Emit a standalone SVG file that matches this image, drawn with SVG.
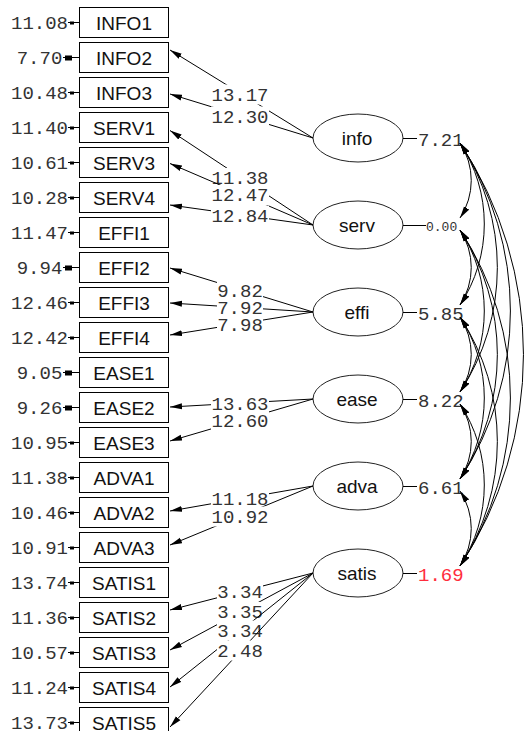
<svg xmlns="http://www.w3.org/2000/svg" width="525" height="731" viewBox="0 0 525 731">
<style>
.box{fill:#fff;stroke:#000;stroke-width:1}
.ell{fill:#fff;stroke:#222;stroke-width:1}
.bt{font-family:"Liberation Sans",Arial,sans-serif;font-size:19px;fill:#111;text-anchor:middle}
.num{font-family:"Liberation Mono","Courier New",monospace;font-size:19px;fill:#333}
.mid{text-anchor:middle}
.err{stroke:#000;stroke-width:1;fill:none}
.blk{fill:#000}
.ln{stroke:#000;stroke-width:1;fill:none;marker-end:url(#ah)}
.cv{stroke:#000;stroke-width:1;fill:none;marker-start:url(#ah);marker-end:url(#ah)}
.bg{fill:#fff}
.red{fill:#ff2d3d}
</style>
<defs>
<marker id="ah" viewBox="0 0 12 7" refX="12" refY="3.5" markerWidth="12" markerHeight="7" markerUnits="userSpaceOnUse" orient="auto-start-reverse"><path d="M0,0.5 L12,3.5 L0,6.5 z" fill="#000"/></marker>
</defs>
<rect width="525" height="731" fill="#fff"/>

<!-- observed variables -->
<g id="INFO1"><rect class="box" x="79.5" y="7.5" width="89" height="30"/><text class="bt" x="124" y="30">INFO1</text><text class="num mid" x="39.5" y="29">11.08</text><path class="err" d="M68 22.5H79"/><rect class="blk" x="70" y="21.5" width="4" height="3"/></g>
<g id="INFO2"><rect class="box" x="79.5" y="42.5" width="89" height="30"/><text class="bt" x="124" y="65">INFO2</text><text class="num mid" x="39.5" y="64">7.70</text><path class="err" d="M63 57.5H79"/><rect class="blk" x="65" y="55.5" width="7" height="5"/></g>
<g id="INFO3"><rect class="box" x="79.5" y="77.5" width="89" height="30"/><text class="bt" x="124" y="100">INFO3</text><text class="num mid" x="39.5" y="99">10.48</text><path class="err" d="M68 92.5H79"/><rect class="blk" x="70" y="91.5" width="4" height="3"/></g>
<g id="SERV1"><rect class="box" x="79.5" y="112.5" width="89" height="30"/><text class="bt" x="124" y="135">SERV1</text><text class="num mid" x="39.5" y="134">11.40</text><path class="err" d="M68 127.5H79"/><rect class="blk" x="70" y="126.5" width="4" height="3"/></g>
<g id="SERV3"><rect class="box" x="79.5" y="147.5" width="89" height="30"/><text class="bt" x="124" y="170">SERV3</text><text class="num mid" x="39.5" y="169">10.61</text><path class="err" d="M68 162.5H79"/><rect class="blk" x="70" y="161.5" width="4" height="3"/></g>
<g id="SERV4"><rect class="box" x="79.5" y="182.5" width="89" height="30"/><text class="bt" x="124" y="205">SERV4</text><text class="num mid" x="39.5" y="204">10.28</text><path class="err" d="M68 197.5H79"/><rect class="blk" x="70" y="196.5" width="4" height="3"/></g>
<g id="EFFI1"><rect class="box" x="79.5" y="217.5" width="89" height="30"/><text class="bt" x="124" y="240">EFFI1</text><text class="num mid" x="39.5" y="239">11.47</text><path class="err" d="M68 232.5H79"/><rect class="blk" x="70" y="231.5" width="4" height="3"/></g>
<g id="EFFI2"><rect class="box" x="79.5" y="252.5" width="89" height="30"/><text class="bt" x="124" y="275">EFFI2</text><text class="num mid" x="39.5" y="274">9.94</text><path class="err" d="M63 267.5H79"/><rect class="blk" x="65" y="265.5" width="7" height="5"/></g>
<g id="EFFI3"><rect class="box" x="79.5" y="287.5" width="89" height="30"/><text class="bt" x="124" y="310">EFFI3</text><text class="num mid" x="39.5" y="309">12.46</text><path class="err" d="M68 302.5H79"/><rect class="blk" x="70" y="301.5" width="4" height="3"/></g>
<g id="EFFI4"><rect class="box" x="79.5" y="322.5" width="89" height="30"/><text class="bt" x="124" y="345">EFFI4</text><text class="num mid" x="39.5" y="344">12.42</text><path class="err" d="M68 337.5H79"/><rect class="blk" x="70" y="336.5" width="4" height="3"/></g>
<g id="EASE1"><rect class="box" x="79.5" y="357.5" width="89" height="30"/><text class="bt" x="124" y="380">EASE1</text><text class="num mid" x="39.5" y="379">9.05</text><path class="err" d="M63 372.5H79"/><rect class="blk" x="65" y="370.5" width="7" height="5"/></g>
<g id="EASE2"><rect class="box" x="79.5" y="392.5" width="89" height="30"/><text class="bt" x="124" y="415">EASE2</text><text class="num mid" x="39.5" y="414">9.26</text><path class="err" d="M63 407.5H79"/><rect class="blk" x="65" y="405.5" width="7" height="5"/></g>
<g id="EASE3"><rect class="box" x="79.5" y="427.5" width="89" height="30"/><text class="bt" x="124" y="450">EASE3</text><text class="num mid" x="39.5" y="449">10.95</text><path class="err" d="M68 442.5H79"/><rect class="blk" x="70" y="441.5" width="4" height="3"/></g>
<g id="ADVA1"><rect class="box" x="79.5" y="462.5" width="89" height="30"/><text class="bt" x="124" y="485">ADVA1</text><text class="num mid" x="39.5" y="484">11.38</text><path class="err" d="M68 477.5H79"/><rect class="blk" x="70" y="476.5" width="4" height="3"/></g>
<g id="ADVA2"><rect class="box" x="79.5" y="497.5" width="89" height="30"/><text class="bt" x="124" y="520">ADVA2</text><text class="num mid" x="39.5" y="519">10.46</text><path class="err" d="M68 512.5H79"/><rect class="blk" x="70" y="511.5" width="4" height="3"/></g>
<g id="ADVA3"><rect class="box" x="79.5" y="532.5" width="89" height="30"/><text class="bt" x="124" y="555">ADVA3</text><text class="num mid" x="39.5" y="554">10.91</text><path class="err" d="M68 547.5H79"/><rect class="blk" x="70" y="546.5" width="4" height="3"/></g>
<g id="SATIS1"><rect class="box" x="79.5" y="567.5" width="89" height="30"/><text class="bt" x="124" y="590">SATIS1</text><text class="num mid" x="39.5" y="589">13.74</text><path class="err" d="M68 582.5H79"/><rect class="blk" x="70" y="581.5" width="4" height="3"/></g>
<g id="SATIS2"><rect class="box" x="79.5" y="602.5" width="89" height="30"/><text class="bt" x="124" y="625">SATIS2</text><text class="num mid" x="39.5" y="624">11.36</text><path class="err" d="M68 617.5H79"/><rect class="blk" x="70" y="616.5" width="4" height="3"/></g>
<g id="SATIS3"><rect class="box" x="79.5" y="637.5" width="89" height="30"/><text class="bt" x="124" y="660">SATIS3</text><text class="num mid" x="39.5" y="659">10.57</text><path class="err" d="M68 652.5H79"/><rect class="blk" x="70" y="651.5" width="4" height="3"/></g>
<g id="SATIS4"><rect class="box" x="79.5" y="672.5" width="89" height="30"/><text class="bt" x="124" y="695">SATIS4</text><text class="num mid" x="39.5" y="694">11.24</text><path class="err" d="M68 687.5H79"/><rect class="blk" x="70" y="686.5" width="4" height="3"/></g>
<g id="SATIS5"><rect class="box" x="79.5" y="707.5" width="89" height="30"/><text class="bt" x="124" y="730">SATIS5</text><text class="num mid" x="39.5" y="729">13.73</text><path class="err" d="M68 722.5H79"/><rect class="blk" x="70" y="721.5" width="4" height="3"/></g>

<!-- latent variables -->
<g id="info"><ellipse class="ell" cx="358" cy="138" rx="45" ry="24"/><text class="bt" x="357" y="145">info</text><path class="err" d="M403 138.5H417"/><text class="num" x="418" y="145.5">7.21</text></g>
<g id="serv"><ellipse class="ell" cx="358" cy="225" rx="45" ry="24"/><text class="bt" x="357" y="232">serv</text><path class="err" d="M403 225.5H426"/><text class="num" x="426" y="230.5" style="font-size:13px">0.00</text></g>
<g id="effi"><ellipse class="ell" cx="358" cy="312" rx="45" ry="24"/><text class="bt" x="357" y="319">effi</text><path class="err" d="M403 312.5H417"/><text class="num" x="418" y="319.5">5.85</text></g>
<g id="ease"><ellipse class="ell" cx="358" cy="399" rx="45" ry="24"/><text class="bt" x="357" y="406">ease</text><path class="err" d="M403 399.5H417"/><text class="num" x="418" y="406.5">8.22</text></g>
<g id="adva"><ellipse class="ell" cx="358" cy="486" rx="45" ry="24"/><text class="bt" x="357" y="493">adva</text><path class="err" d="M403 486.5H417"/><text class="num" x="418" y="493.5">6.61</text></g>
<g id="satis"><ellipse class="ell" cx="358" cy="573" rx="45" ry="24"/><text class="bt" x="357" y="580">satis</text><path class="err" d="M403 573.5H417"/><text class="num red" x="418" y="580.5">1.69</text></g>

<!-- connectors -->
<g id="connectors">
<g><path class="ln" d="M313 138L170 50"/><rect class="bg" x="211" y="84.5" width="58" height="20"/><text class="num mid" x="240" y="100.5">13.17</text></g>
<g><path class="ln" d="M313 138L170 94"/><rect class="bg" x="211" y="106.5" width="58" height="20"/><text class="num mid" x="240" y="122.5">12.30</text></g>
<g><path class="ln" d="M313 225L170 130.5"/><rect class="bg" x="211" y="168" width="58" height="20"/><text class="num mid" x="240" y="184">11.38</text></g>
<g><path class="ln" d="M313 225L170 163.5"/><rect class="bg" x="211" y="185" width="58" height="20"/><text class="num mid" x="240" y="201">12.47</text></g>
<g><path class="ln" d="M313 225L170 205"/><rect class="bg" x="211" y="205.5" width="58" height="20"/><text class="num mid" x="240" y="221.5">12.84</text></g>
<g><path class="ln" d="M313 312L170 268"/><rect class="bg" x="217" y="280.5" width="46" height="20"/><text class="num mid" x="240" y="296.5">9.82</text></g>
<g><path class="ln" d="M313 312L170 303"/><rect class="bg" x="217" y="298" width="46" height="20"/><text class="num mid" x="240" y="314">7.92</text></g>
<g><path class="ln" d="M313 312L170 335"/><rect class="bg" x="217" y="314.5" width="46" height="20"/><text class="num mid" x="240" y="330.5">7.98</text></g>
<g><path class="ln" d="M313 399L170 407"/><rect class="bg" x="211" y="393.5" width="58" height="20"/><text class="num mid" x="240" y="409.5">13.63</text></g>
<g><path class="ln" d="M313 399L170 441"/><rect class="bg" x="211" y="410.5" width="58" height="20"/><text class="num mid" x="240" y="426.5">12.60</text></g>
<g><path class="ln" d="M313 486L170 511"/><rect class="bg" x="211" y="489" width="58" height="20"/><text class="num mid" x="240" y="505">11.18</text></g>
<g><path class="ln" d="M313 486L170 545"/><rect class="bg" x="211" y="506.5" width="58" height="20"/><text class="num mid" x="240" y="522.5">10.92</text></g>
<g><path class="ln" d="M313 573L170 610"/><rect class="bg" x="217" y="582" width="46" height="20"/><text class="num mid" x="240" y="598">3.34</text></g>
<g><path class="ln" d="M313 573L170 650"/><rect class="bg" x="217" y="602" width="46" height="20"/><text class="num mid" x="240" y="618">3.35</text></g>
<g><path class="ln" d="M313 573L170 687"/><rect class="bg" x="217" y="620.5" width="46" height="20"/><text class="num mid" x="240" y="636.5">3.34</text></g>
<g><path class="ln" d="M313 573L170 727"/><rect class="bg" x="217" y="640.5" width="46" height="20"/><text class="num mid" x="240" y="656.5">2.48</text></g>

<path class="cv" d="M460 143A68.1 68.1 0 0 1 460 218"/>
<path class="cv" d="M460 143A147.1 147.1 0 0 1 460 305"/>
<path class="cv" d="M460 143A226.2 226.2 0 0 1 460 392"/>
<path class="cv" d="M460 143A305.2 305.2 0 0 1 460 479"/>
<path class="cv" d="M460 143A384.2 384.2 0 0 1 460 566"/>
<path class="cv" d="M460 230A68.1 68.1 0 0 1 460 305"/>
<path class="cv" d="M460 230A147.1 147.1 0 0 1 460 392"/>
<path class="cv" d="M460 230A226.2 226.2 0 0 1 460 479"/>
<path class="cv" d="M460 230A305.2 305.2 0 0 1 460 566"/>
<path class="cv" d="M460 317A68.1 68.1 0 0 1 460 392"/>
<path class="cv" d="M460 317A147.1 147.1 0 0 1 460 479"/>
<path class="cv" d="M460 317A226.2 226.2 0 0 1 460 566"/>
<path class="cv" d="M460 404A68.1 68.1 0 0 1 460 479"/>
<path class="cv" d="M460 404A147.1 147.1 0 0 1 460 566"/>
<path class="cv" d="M460 491A68.1 68.1 0 0 1 460 566"/>
</g>
</svg>
